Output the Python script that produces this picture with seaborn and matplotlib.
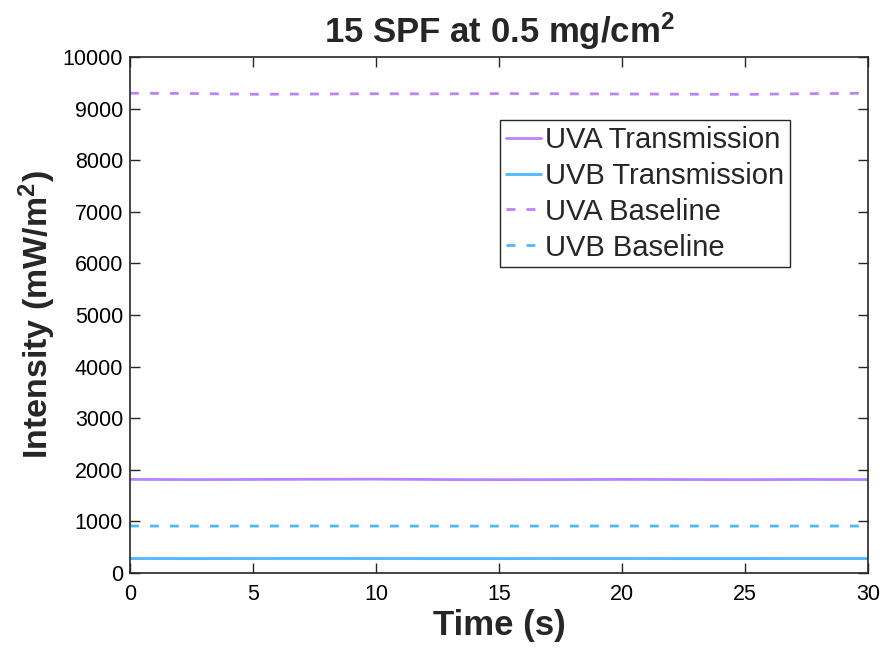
import pandas as pd
import seaborn as sns
import matplotlib
matplotlib.use("Agg")
import matplotlib.pyplot as plt

# Datos (intensidad en mW/m^2)
tiempo = [0, 2.5, 5, 7.5, 10, 12.5, 15, 17.5, 20, 22.5, 25, 27.5, 30]
uva_transmision = [1815, 1812, 1814, 1818, 1820, 1813, 1810, 1812, 1815, 1813, 1811, 1814, 1812]
uvb_transmision = [282, 281, 282, 283, 282, 281, 281, 282, 282, 281, 281, 282, 282]
uva_base = [9300, 9295, 9280, 9285, 9290, 9288, 9292, 9290, 9285, 9282, 9278, 9290, 9300]
uvb_base = [912, 910, 911, 912, 911, 910, 910, 911, 912, 911, 910, 911, 912]

series = ["UVA Transmission", "UVB Transmission", "UVA Baseline", "UVB Baseline"]
valores = [uva_transmision, uvb_transmision, uva_base, uvb_base]

df = pd.concat(
    [pd.DataFrame({"Time": tiempo, "Intensity": v, "Serie": s}) for s, v in zip(series, valores)],
    ignore_index=True,
)

sns.set_style("ticks")
plt.rcParams["font.family"] = ["Liberation Sans", "DejaVu Sans"]
plt.rcParams["mathtext.default"] = "regular"

morado = "#B983FF"
azul = "#4DB8FF"
gris = "#262626"

fig = plt.figure(figsize=(8.84, 6.49), dpi=100)
ax = fig.add_axes([0.147, 0.117, 0.835, 0.795])

sns.lineplot(
    data=df, x="Time", y="Intensity", hue="Serie", style="Serie",
    palette={series[0]: morado, series[1]: azul, series[2]: morado, series[3]: azul},
    dashes={series[0]: "", series[1]: "", series[2]: (3.2, 4), series[3]: (3.2, 4)},
    linewidth=2, ax=ax,
)

ax.set_xlim(0, 30)
ax.set_ylim(0, 10000)
ax.set_xticks(range(0, 31, 5))
ax.set_yticks(range(0, 10001, 1000))
ax.tick_params(direction="in", length=7, width=1, top=True, right=True,
               labelsize=15.5, colors=gris, labelcolor="black", pad=5)
ax.tick_params(axis="x", pad=8)
for sp in ax.spines.values():
    sp.set_visible(True)
    sp.set_color(gris)
    sp.set_linewidth(1.2)

ax.set_xlabel("Time (s)", fontsize=25, fontweight="bold", labelpad=3)
ax.set_ylabel("Intensity (mW/m$^2$)", fontsize=24.5, fontweight="bold", labelpad=3)
ax.set_title("15 SPF at 0.5 mg/cm$^2$", fontsize=25, fontweight="bold", pad=10)

leg = ax.legend(loc="upper right", bbox_to_anchor=(0.894, 0.878), fontsize=21,
                frameon=True, fancybox=False, handlelength=1.2, handletextpad=0.15,
                borderpad=0.2, labelspacing=0.27, borderaxespad=0)
leg.get_frame().set_edgecolor(gris)
leg.get_frame().set_linewidth(1)
leg.get_frame().set_alpha(1)

plt.savefig("out.png", dpi=100)
